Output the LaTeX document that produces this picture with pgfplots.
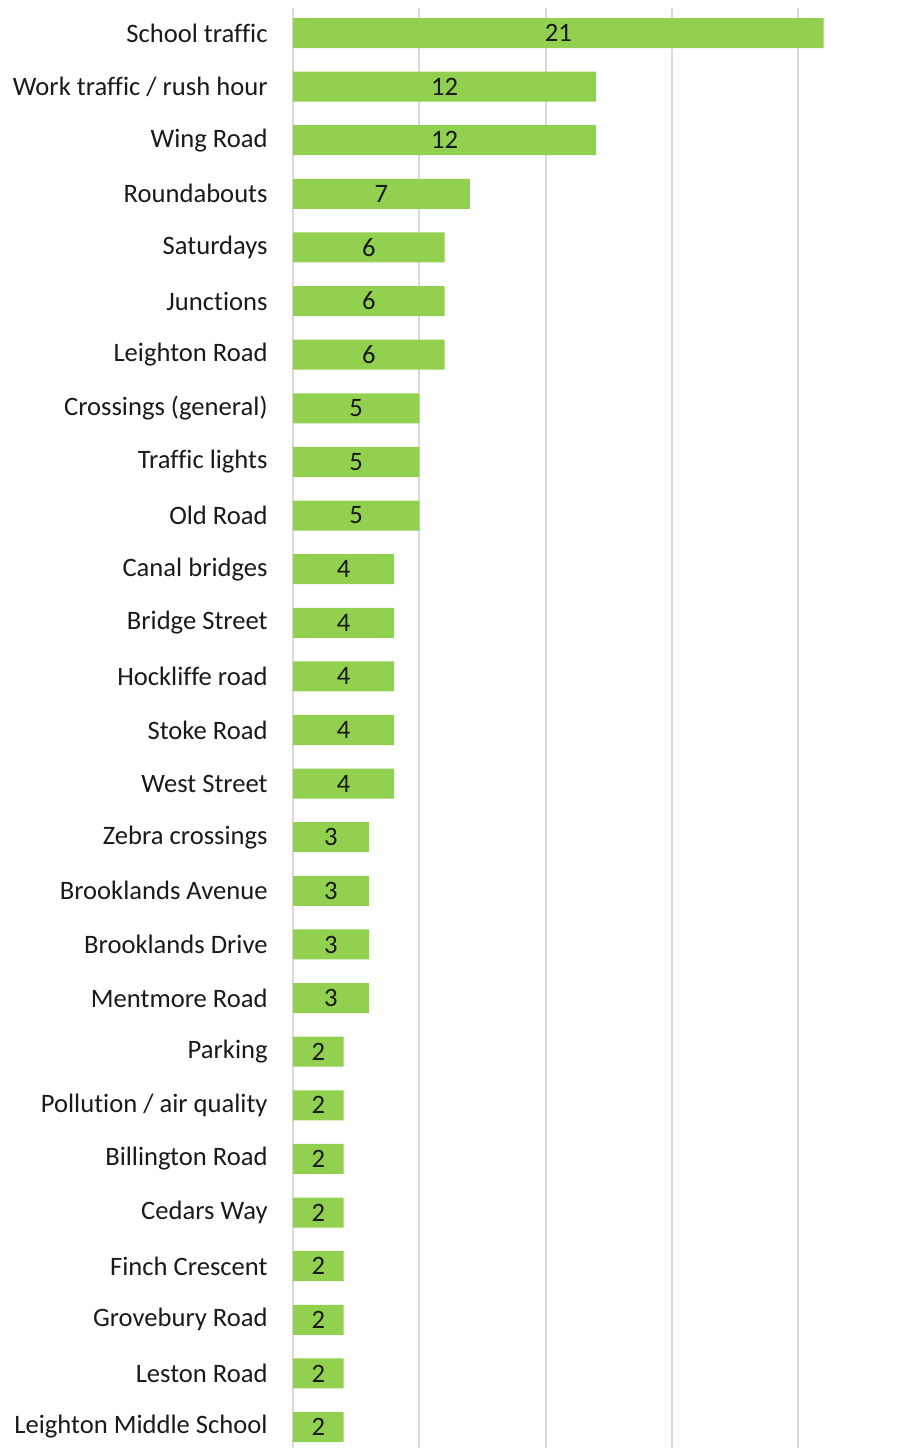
\documentclass[border=0pt]{standalone}
\usepackage{pgfplots}
\usepackage{pgfplotstable}
\pgfplotsset{compat=1.18}
\usepackage{fontspec}
\setmainfont[Ligatures={NoCommon}]{Carlito}
\definecolor{bargreen}{HTML}{92D050}
\definecolor{gridgray}{HTML}{D9D9D9}
\definecolor{txt}{HTML}{1A1A1A}
\pgfplotstableread[col sep=comma]{
idx,label,val
0,School traffic,21
1,Work traffic / rush hour,12
2,Wing Road,12
3,Roundabouts,7
4,Saturdays,6
5,Junctions,6
6,Leighton Road,6
7,Crossings (general),5
8,Traffic lights,5
9,Old Road,5
10,Canal bridges,4
11,Bridge Street,4
12,Hockliffe road,4
13,Stoke Road,4
14,West Street,4
15,Zebra crossings,3
16,Brooklands Avenue,3
17,Brooklands Drive,3
18,Mentmore Road,3
19,Parking,2
20,Pollution / air quality,2
21,Billington Road,2
22,Cedars Way,2
23,Finch Crescent,2
24,Grovebury Road,2
25,Leston Road,2
26,Leighton Middle School,2
}\data
\begin{document}
\fontsize{13.3}{16}\selectfont
\begin{tikzpicture}
\path[use as bounding box] (0,0) rectangle (456pt,724pt);
\begin{axis}[
  at={(146.5pt,0pt)}, anchor=south west,
  scale only axis, width=309.5pt, height=720pt,
  xmin=0, xmax=24.5,
  ymin=-0.466, ymax=26.392, y dir=reverse,
  axis line style={draw=none},
  xtick={0,5,10,15,20}, xticklabels={},
  xmajorgrids, grid style={draw=gridgray, line width=1pt},
  ytick={0,...,26},
  yticklabels from table={\data}{label},
  major tick length=0pt,
  yticklabel style={inner sep=0pt, text=txt, font=\fontsize{13.3}{16}\selectfont},
  yticklabel shift=12.5pt,
  clip=false,
]
\addplot[xbar, bar width=15pt, fill=bargreen, draw=none, bar shift=0pt]
  table[x=val, y=idx] {\data};
\addplot[only marks, mark=none, point meta=explicit symbolic,
  nodes near coords={\pgfplotspointmeta},
  nodes near coords align=center,
  every node near coord/.append style={anchor=center, text=txt, font=\fontsize{13.3}{16}\selectfont}]
  table[x expr=\thisrow{val}/2, y=idx, meta=val] {\data};
\end{axis}
\end{tikzpicture}
\end{document}
